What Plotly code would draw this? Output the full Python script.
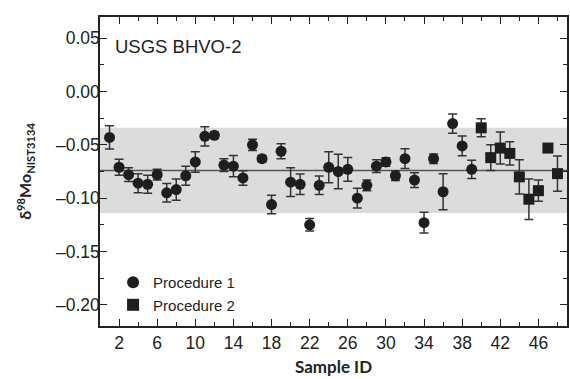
import plotly.graph_objects as go

# Procedure 1 (samples 1-39)
ids1 = list(range(1, 40))
vals1 = [-0.043, -0.071, -0.078, -0.086, -0.087, -0.078, -0.095, -0.092, -0.079, -0.066,
         -0.042, -0.041, -0.069, -0.070, -0.081, -0.050, -0.063, -0.106, -0.056, -0.085,
         -0.087, -0.125, -0.088, -0.071, -0.075, -0.073, -0.100, -0.088, -0.070, -0.066,
         -0.079, -0.063, -0.083, -0.123, -0.063, -0.094, -0.030, -0.051, -0.073]
errs1 = [0.011, 0.0075, 0.0065, 0.009, 0.0085, 0.005, 0.0087, 0.010, 0.009, 0.0096,
         0.009, 0.003, 0.006, 0.010, 0.0068, 0.0053, 0.003, 0.0087, 0.007, 0.0135,
         0.0097, 0.0058, 0.0087, 0.0145, 0.0163, 0.0112, 0.0092, 0.005, 0.006, 0.004,
         0.0044, 0.0093, 0.0069, 0.0097, 0.0044, 0.0168, 0.009, 0.0093, 0.0085]

# Procedure 2 (samples 40-48)
ids2 = list(range(40, 49))
vals2 = [-0.034, -0.062, -0.053, -0.058, -0.080, -0.101, -0.093, -0.053, -0.077]
errs2 = [0.0085, 0.012, 0.015, 0.011, 0.016, 0.019, 0.010, 0.003, 0.0165]

mean_val = -0.074
two_sd = 0.040

x_ticks = [2, 6, 10, 14, 18, 22, 26, 30, 34, 38, 42, 46]
y_ticks = [0.05, 0.00, -0.05, -0.10, -0.15, -0.20]
y_ticklabels = ["0.05", "0.00", "\u20130.05", "\u20130.10", "\u20130.15", "\u20130.20"]

ink = "#1e1e1e"
errc = "#333333"

fig = go.Figure()
fig.add_trace(go.Scatter(
    x=ids1, y=vals1, mode="markers", name="Procedure 1",
    marker=dict(symbol="circle", size=11, color=ink),
    error_y=dict(type="data", array=errs1, visible=True, color=errc, thickness=1.5, width=4.5),
))
fig.add_trace(go.Scatter(
    x=ids2, y=vals2, mode="markers", name="Procedure 2",
    marker=dict(symbol="square", size=11, color=ink),
    error_y=dict(type="data", array=errs2, visible=True, color=errc, thickness=1.5, width=4.5),
))

fig.add_shape(type="rect", xref="paper", x0=0, x1=1, yref="y",
              y0=mean_val - two_sd, y1=mean_val + two_sd,
              fillcolor="#dcdcdc", line=dict(width=0), layer="below")
fig.add_shape(type="line", xref="paper", x0=0, x1=1, yref="y",
              y0=mean_val, y1=mean_val, line=dict(color="#555555", width=1.5), layer="below")

fig.add_annotation(text="USGS BHVO-2", xref="paper", yref="paper", x=0.028, y=0.903,
                   xanchor="left", yanchor="middle", showarrow=False,
                   font=dict(family="Liberation Sans, Arial", size=18.5, color="#222"))

axis_font = dict(family="Liberation Sans, Arial", size=17.5, color="#222")

fig.update_layout(
    width=570, height=379,
    margin=dict(l=100, r=1, t=17, b=53),
    paper_bgcolor="white", plot_bgcolor="white",
    showlegend=True,
    legend=dict(x=0.028, y=0.194, xanchor="left", yanchor="top",
                bgcolor="rgba(0,0,0,0)", font=dict(family="Liberation Sans, Arial", size=15, color="#222"),
                tracegroupgap=0, itemsizing="constant"),
    xaxis=dict(
        range=[0, 49], tickmode="array", tickvals=x_ticks,
        ticks="inside", ticklen=7, tickwidth=1.2, tickcolor="#222",
        minor=dict(ticks="inside", ticklen=4, tickwidth=1.2, tickcolor="#222", dtick=2, tick0=0),
        showline=True, linecolor="#222", linewidth=1.5, mirror="ticks",
        showgrid=False, zeroline=False, tickfont=axis_font,
        title=dict(text="<b>Sample ID</b>", font=dict(family="Lato", size=17, color="#222"), standoff=9),
    ),
    yaxis=dict(
        range=[-0.22, 0.07], tickmode="array", tickvals=y_ticks, ticktext=y_ticklabels,
        ticks="inside", ticklen=7, tickwidth=1.2, tickcolor="#222",
        minor=dict(ticks="inside", ticklen=4, tickwidth=1.2, tickcolor="#222", dtick=0.025, tick0=0),
        showline=True, linecolor="#222", linewidth=1.5, mirror="ticks",
        showgrid=False, zeroline=False, tickfont=axis_font, ticklabelstandoff=-5,
        title=dict(text="<b>\u03b4<sup>98</sup>Mo<sub>NIST3134</sub></b>",
                   font=dict(family="Lato", size=16, color="#222"), standoff=20),
    ),
)

fig.write_html("out.html", config={"displayModeBar": False},
               post_script="document.body.style.margin='0';")
